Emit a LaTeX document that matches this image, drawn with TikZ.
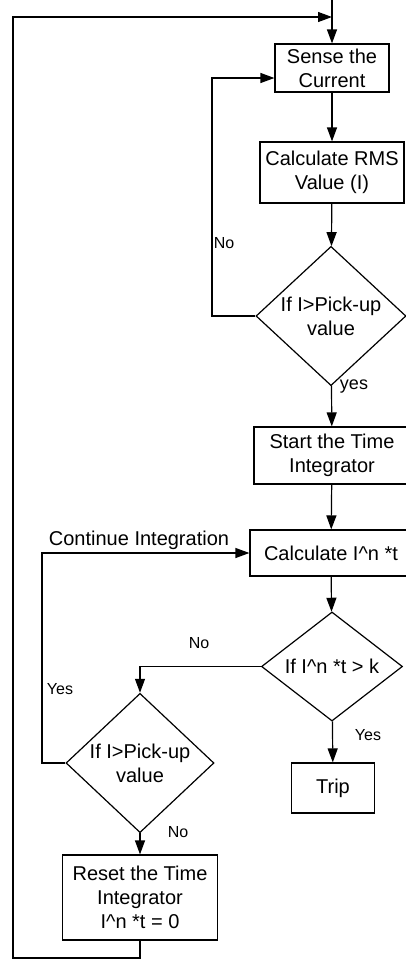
\documentclass[tikz,border=0pt]{standalone}
\usepackage{fontspec}
\setmainfont{Liberation Sans}
\usepackage{tikz}
\usetikzlibrary{arrows.meta}
\usetikzlibrary{shapes.geometric}
\tikzset{block/.style={rectangle, draw, line width=0.6pt, inner sep=1pt, align=center, font=\fontsize{10}{12}\selectfont},
	decision/.style={diamond, draw, line width=0.6pt, inner sep=0pt, align=center, font=\fontsize{10}{12}\selectfont},
	flow/.style={line width=0.6pt, -{Triangle[length=7pt, width=5pt]}},
	tag/.style={inner sep=0pt, font=\fontsize{8}{9.6}\selectfont}
}

\begin{document}
\begin{tikzpicture}[x=0.5pt, y=-0.5pt]
			\useasboundingbox (0,0) rectangle (406,960);
			\node[block, minimum width=57pt, minimum height=24pt] (sense) at (332,68) {Sense the\\Current};
			\node[block, minimum width=72pt, minimum height=30.5pt] (rms) at (332,172.5) {Calculate RMS\\Value (I)};
			\node[decision, minimum width=75pt, minimum height=59pt] (pickup) at (331,316) {If I>Pick-up\\value};
			\node[block, minimum width=78pt, minimum height=28.5pt] (start) at (332,455.5) {Start the Time\\Integrator};
			\node[block, minimum width=81pt, minimum height=23pt] (calc) at (331,553) {Calculate I\textasciicircum n *t};
			\node[decision, minimum width=70.5pt, minimum height=42.5pt] (limit) at (332,666.5) {If I\textasciicircum n *t > k};
			\node[block, minimum width=41.5pt, minimum height=25pt] (trip) at (333,788) {Trip};
			\node[decision, minimum width=74pt, minimum height=59.5pt] (recheck) at (140,763) {If I>Pick-up\\value};
			\node[block, minimum width=77.5pt, minimum height=42.5pt] (reset) at (140,897.5) {Reset the Time\\Integrator\\I\textasciicircum n *t = 0};
			% turning points of the loops
			\coordinate (topin) at (332,-4);
			\coordinate (topjoin) at (332,17);
			\coordinate (noturn) at (212,316);
			\coordinate (contturn) at (42,763);
			\coordinate (loopbottom) at (13,958);
			\coordinate (looptop) at (13,17);
			% labels
			\node[tag] (notop) at (224,243) {No};
			\node[inner sep=0pt, font=\fontsize{9}{11}\selectfont] (yestop) at (354,387) {yes};
			\node[inner sep=0pt, font=\fontsize{10}{12}\selectfont] (cont) at (139,540) {Continue Integration};
			\node[tag] (nomid) at (199,643) {No};
			\node[tag] (yesleft) at (60,689) {Yes};
			\node[tag] (yestrip) at (368,735) {Yes};
			\node[tag] (nobottom) at (178,832) {No};
			% connectors
			\draw[flow] (topin) -- (sense);
			\draw[flow] (sense) -- (rms);
			\draw[flow] (rms) -- (pickup);
			\draw[flow] (pickup.west) -- (noturn) |- ([yshift=-5pt]sense.west);
			\draw[flow] (pickup) -- (start);
			\draw[flow] (start) -- (calc);
			\draw[flow] (calc) -- (limit);
			\draw[flow] (limit) -- (trip);
			\draw[flow] (limit.west) -| (recheck.north);
			\draw[flow] (recheck.west) -- (contturn) |- (calc.west);
			\draw[flow] (recheck) -- (reset);
			\draw[flow] (reset.south) |- (loopbottom) -- (looptop) -- (topjoin);
		\end{tikzpicture}
\end{document}
